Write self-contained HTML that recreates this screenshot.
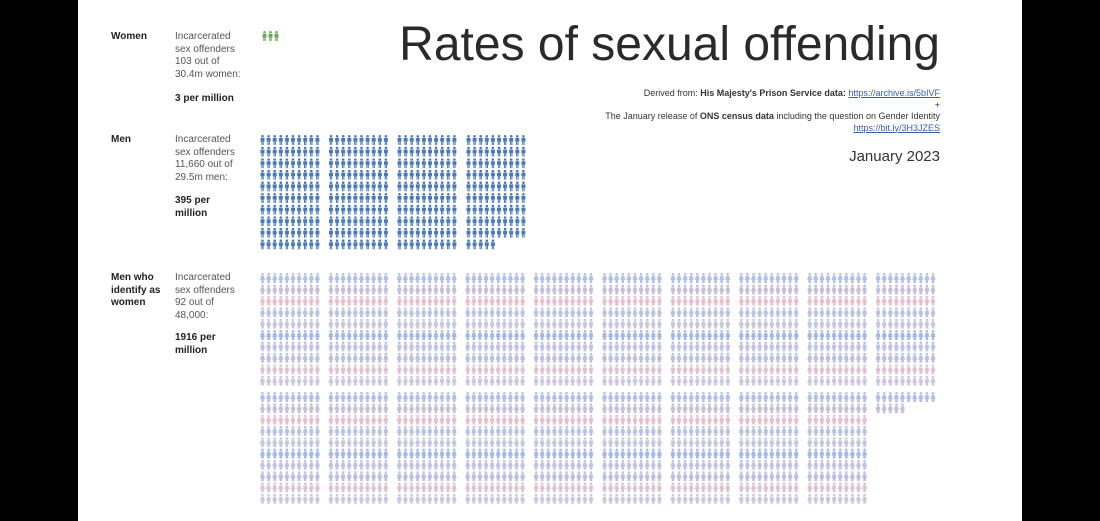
<!DOCTYPE html>
<html><head><meta charset="utf-8"><style>
body{margin:0;width:1100px;height:521px;background:#000;position:relative;overflow:hidden;font-family:"Liberation Sans",sans-serif}
#pg{position:absolute;left:78px;top:0;width:944px;height:521px;background:#fff}
.t{position:absolute;font-size:10px;color:#555;line-height:12.5px}
.b{font-weight:bold;color:#222}
a{color:#3a5ea8}
</style></head><body>
<div id="pg"></div>
<div class="t b" style="left:111px;top:31px">Women</div>
<div class="t" style="left:175px;top:31px">Incarcerated<br>sex offenders<br>103 out of<br>30.4m women:</div>
<div class="t b" style="left:175px;top:93px">3 per million</div>
<div class="t b" style="left:111px;top:134px">Men</div>
<div class="t" style="left:175px;top:134px">Incarcerated<br>sex offenders<br>11,660 out of<br>29.5m men:</div>
<div class="t b" style="left:175px;top:195px">395 per<br>million</div>
<div class="t b" style="left:111px;top:272px">Men who<br>identify as<br>women</div>
<div class="t" style="left:175px;top:272px">Incarcerated<br>sex offenders<br>92 out of<br>48,000:</div>
<div class="t b" style="left:175px;top:332px">1916 per<br>million</div>
<div style="position:absolute;right:160px;top:17px;font-size:48px;color:#2a2a2a;white-space:nowrap">Rates of sexual offending</div>
<div class="t" style="right:160px;top:88px;text-align:right;font-size:9px;line-height:11.5px;color:#333">Derived from: <b>His Majesty's Prison Service data:</b> <a href="#">https://archive.is/5bIVF</a><br>+<br>The January release of <b>ONS census data</b> including the question on Gender Identity<br><a href="#">https://bit.ly/3H3JZES</a></div>
<div style="position:absolute;right:160px;top:148px;font-size:15px;color:#333">January 2023</div>
<svg id="s" width="1100" height="521" style="position:absolute;left:0;top:0">
<defs><symbol id="f" viewBox="0 0 5 10"><circle cx="2.5" cy="1.3" r="1.3"/><path d="M0.5 3h4v3.5h-0.8v3.5h-1v-3.5h-0.4v3.5h-1v-3.5h-0.8z"/></symbol>
<symbol id="g" viewBox="0 0 5 10"><circle cx="2.5" cy="1.3" r="1.3"/><path d="M1 3h3l1 4h-1.2v3h-2.6v-3h-1.2z"/></symbol></defs>
</svg>
<script>
var s=document.getElementById('s'),ns='http://www.w3.org/2000/svg';
function u(id,x,y,c,o){var e=document.createElementNS(ns,'use');e.setAttribute('href','#'+id);e.setAttribute('x',x);e.setAttribute('y',y);e.setAttribute('width',5);e.setAttribute('height',10);e.setAttribute('fill',c);if(o)e.setAttribute('opacity',o);s.appendChild(e);}
for(var i=0;i<3;i++)u('f',262+i*6,31,'#6aa84f');
var bx=[260,328.5,397,466];
for(var b=0;b<4;b++)for(var r=0;r<10;r++)for(var c=0;c<10;c++){if(b==3&&r==9&&c>=5)continue;u('f',bx[b]+c*6.1,135+r*11.6,'#4a78b8');}
var cols=['#9fb0e0','#b7aed0','#e0b0c4','#aab4dc','#b8b8d8','#8fa6e0','#b0b4da','#a8b0d8','#d8b4c8','#c0b8d6'];
for(var b=0;b<10;b++){var x0=260+b*68.4;for(var r=0;r<20;r++){var y=r<10?273+r*11.4:392+(r-10)*11.3;for(var c=0;c<10;c++){if(b==9&&(r>11||(r==11&&c>=5)))continue;u('g',x0+c*6.1,y,cols[r%10],0.8);}}}
</script>
</body></html>
